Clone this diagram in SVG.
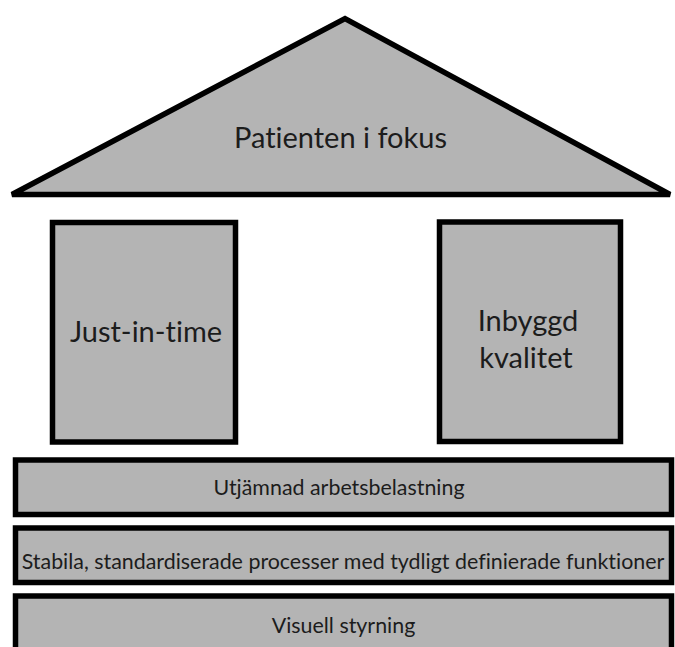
<svg xmlns="http://www.w3.org/2000/svg" width="675" height="647" viewBox="0 0 675 647">
  <style>
    .part { fill: #b4b4b4; stroke: #000; stroke-width: 5.5; stroke-linejoin: miter; }
    .label { font-family: Lato, "Open Sans", "Liberation Sans", sans-serif; fill: #1c1c1c; text-anchor: middle; font-variant-ligatures: none; }
    .big { font-size: 29px; }
    .small { font-size: 21.4px; }
  </style>
  <rect width="675" height="647" fill="#fff"/>

  <!-- roof -->
  <g id="roof">
    <polygon class="part" points="12,194.5 345,18.5 670,194.5"/>
    <text class="label big" x="340.5" y="148">Patienten i fokus</text>
  </g>

  <!-- left pillar -->
  <g id="pillar-jit">
    <rect class="part" x="52.5" y="222.5" width="183" height="219.5"/>
    <text class="label big" x="146" y="342">Just-in-time</text>
  </g>

  <!-- right pillar -->
  <g id="pillar-quality">
    <rect class="part" x="439.5" y="222" width="181" height="219.5"/>
    <text class="label big" x="528" y="331">Inbyggd</text>
    <text class="label big" x="526" y="368">kvalitet</text>
  </g>

  <!-- foundation layers -->
  <g id="bar-levelling">
    <rect class="part" x="15.5" y="460" width="656" height="54.5"/>
    <text class="label small" x="339" y="495">Utjämnad arbetsbelastning</text>
  </g>
  <g id="bar-standard">
    <rect class="part" x="15.5" y="528" width="656" height="54.5"/>
    <text class="label small" x="343" y="569">Stabila, standardiserade processer med tydligt definierade funktioner</text>
  </g>
  <g id="bar-visual">
    <rect class="part" x="15.5" y="596" width="656" height="60"/>
    <text class="label small" x="343.5" y="633">Visuell styrning</text>
  </g>

  <g id="connectors"/>
</svg>
